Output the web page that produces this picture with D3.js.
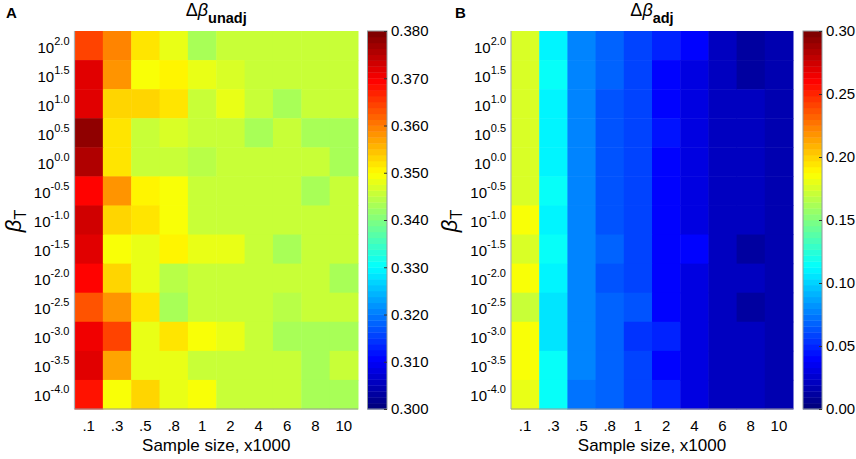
<!DOCTYPE html>
<meta charset="utf-8">
<script src="https://d3js.org/d3.v7.min.js"></script>
<style>
  body { margin: 0; background: #fff; }
  text { font-family: "Liberation Sans", Arial, sans-serif; fill: #000; }
</style>
<div id="my_dataviz"></div>
<script>
// row labels are exponents of 10 (beta_T), columns are sample sizes x1000
var exponents = ["2.0", "1.5", "1.0", "0.5", "0.0", "-0.5", "-1.0", "-1.5", "-2.0", "-2.5", "-3.0", "-3.5", "-4.0"];
var sampleSizes = [".1", ".3", ".5", ".8", "1", "2", "4", "6", "8", "10"];

// panel A: delta beta unadjusted
var unadj = [
  [0.3640, 0.3590, 0.3520, 0.3475, 0.3435, 0.3450, 0.3450, 0.3450, 0.3450, 0.3450],
  [0.3720, 0.3575, 0.3490, 0.3500, 0.3478, 0.3465, 0.3450, 0.3450, 0.3450, 0.3450],
  [0.3720, 0.3530, 0.3532, 0.3520, 0.3460, 0.3475, 0.3450, 0.3437, 0.3450, 0.3450],
  [0.3775, 0.3525, 0.3450, 0.3470, 0.3450, 0.3450, 0.3437, 0.3450, 0.3437, 0.3437],
  [0.3750, 0.3525, 0.3450, 0.3450, 0.3448, 0.3450, 0.3450, 0.3462, 0.3450, 0.3437],
  [0.3690, 0.3585, 0.3500, 0.3490, 0.3460, 0.3455, 0.3460, 0.3450, 0.3437, 0.3450],
  [0.3730, 0.3530, 0.3522, 0.3490, 0.3460, 0.3460, 0.3450, 0.3450, 0.3450, 0.3450],
  [0.3720, 0.3490, 0.3475, 0.3500, 0.3475, 0.3475, 0.3450, 0.3437, 0.3450, 0.3450],
  [0.3690, 0.3535, 0.3475, 0.3440, 0.3460, 0.3450, 0.3450, 0.3450, 0.3462, 0.3437],
  [0.3625, 0.3575, 0.3525, 0.3426, 0.3455, 0.3450, 0.3450, 0.3440, 0.3450, 0.3450],
  [0.3700, 0.3638, 0.3475, 0.3525, 0.3490, 0.3480, 0.3450, 0.3437, 0.3437, 0.3437],
  [0.3720, 0.3570, 0.3475, 0.3475, 0.3450, 0.3450, 0.3460, 0.3450, 0.3437, 0.3450],
  [0.3677, 0.3490, 0.3530, 0.3475, 0.3490, 0.3460, 0.3450, 0.3450, 0.3437, 0.3437]
];

// panel B: delta beta adjusted
var adj = [
  [0.178, 0.112, 0.075, 0.068, 0.058, 0.047, 0.0375, 0.023, 0.012, 0.016],
  [0.174, 0.117, 0.0795, 0.068, 0.058, 0.0375, 0.0285, 0.023, 0.012, 0.016],
  [0.178, 0.112, 0.077, 0.061, 0.058, 0.0375, 0.0285, 0.023, 0.021, 0.016],
  [0.178, 0.112, 0.077, 0.0656, 0.058, 0.044, 0.0285, 0.023, 0.021, 0.016],
  [0.178, 0.112, 0.077, 0.0656, 0.058, 0.0375, 0.0285, 0.023, 0.021, 0.016],
  [0.174, 0.117, 0.075, 0.0656, 0.058, 0.0375, 0.0285, 0.023, 0.021, 0.016],
  [0.183, 0.112, 0.075, 0.063, 0.058, 0.042, 0.0285, 0.021, 0.021, 0.016],
  [0.178, 0.117, 0.0795, 0.068, 0.058, 0.042, 0.0375, 0.021, 0.012, 0.016],
  [0.184, 0.112, 0.077, 0.061, 0.058, 0.0375, 0.0285, 0.021, 0.019, 0.016],
  [0.171, 0.106, 0.077, 0.068, 0.063, 0.0375, 0.0285, 0.021, 0.012, 0.016],
  [0.183, 0.106, 0.077, 0.068, 0.052, 0.049, 0.0285, 0.021, 0.019, 0.016],
  [0.183, 0.117, 0.077, 0.068, 0.058, 0.040, 0.0285, 0.021, 0.019, 0.016],
  [0.180, 0.117, 0.072, 0.068, 0.058, 0.047, 0.0285, 0.021, 0.019, 0.016]
];

var unadjTicks = [0.300, 0.310, 0.320, 0.330, 0.340, 0.350, 0.360, 0.370, 0.380];
var adjTicks = [0.00, 0.05, 0.10, 0.15, 0.20, 0.25, 0.30];

var W = 856, H = 459;
var svg = d3.select("#my_dataviz")
  .append("svg")
    .attr("width", W)
    .attr("height", H);

// matlab style jet with 64 steps
var nColors = 64;
function clamp(v) { return Math.max(0, Math.min(1, v)); }
function jet(t) {
  var r = clamp(1.5 - Math.abs(4 * t - 3)),
      g = clamp(1.5 - Math.abs(4 * t - 2)),
      b = clamp(1.5 - Math.abs(4 * t - 1));
  return d3.rgb(r * 255, g * 255, b * 255).toString();
}
var jetSteps = d3.range(nColors).map(function(i) { return jet(i / (nColors - 1)); });

function drawPanel(opts) {
  var top = 31, bottom = 409;
  var x = d3.scaleBand().domain(sampleSizes).range([opts.left, opts.right]);
  var y = d3.scaleBand().domain(exponents).range([top, bottom]);

  var color = d3.scaleQuantize().domain(opts.domain).range(jetSteps);

  var g = svg.append("g");

  // cells
  var cells = [];
  opts.values.forEach(function(row, i) {
    row.forEach(function(v, j) {
      cells.push({ r: exponents[i], c: sampleSizes[j], v: v });
    });
  });
  g.selectAll("rect.cell")
    .data(cells)
    .enter()
    .append("rect")
      .attr("class", "cell")
      .attr("x", function(d) { return x(d.c); })
      .attr("y", function(d) { return y(d.r); })
      .attr("width", x.bandwidth() + 0.5)
      .attr("height", y.bandwidth() + 0.5)
      .attr("fill", function(d) { return color(d.v); });

  // axis lines
  g.append("line")
    .attr("x1", opts.left).attr("x2", opts.left)
    .attr("y1", top).attr("y2", bottom)
    .attr("stroke", "#a9b4b8").attr("stroke-width", 1.2);
  g.append("line")
    .attr("x1", opts.left).attr("x2", opts.right)
    .attr("y1", bottom).attr("y2", bottom)
    .attr("stroke", "#999").attr("stroke-width", 1.2);

  // x tick labels
  g.selectAll("text.xt")
    .data(sampleSizes)
    .enter()
    .append("text")
      .attr("class", "xt")
      .attr("x", function(d) { return x(d) + x.bandwidth() / 2; })
      .attr("y", 431)
      .attr("text-anchor", "middle")
      .style("font-size", "15px")
      .text(function(d) { return d; });

  // y tick labels 10^e
  var yt = g.selectAll("text.yt")
    .data(exponents)
    .enter()
    .append("text")
      .attr("class", "yt")
      .attr("x", opts.left - 5)
      .attr("y", function(d) { return y(d) + y.bandwidth() / 2 + 7; })
      .attr("text-anchor", "end")
      .style("font-size", "15px");
  yt.append("tspan").text("10");
  yt.append("tspan")
    .attr("dy", -8)
    .style("font-size", "11px")
    .text(function(d) { return d; });

  // x axis label
  g.append("text")
    .attr("x", (opts.left + opts.right) / 2)
    .attr("y", 451)
    .attr("text-anchor", "middle")
    .style("font-size", "17px")
    .text("Sample size, x1000");

  // y axis label beta_T
  var yl = g.append("text")
    .attr("transform", "translate(" + (opts.left - 54) + "," + 221 + ") rotate(-90)")
    .attr("text-anchor", "middle")
    .style("font-size", "22px");
  yl.append("tspan").style("font-style", "italic").text("β");
  yl.append("tspan").attr("dy", 5).style("font-size", "16px").text("T");

  // title
  var ti = g.append("text")
    .attr("x", (opts.left + opts.right) / 2)
    .attr("y", 16)
    .attr("text-anchor", "middle")
    .style("font-size", "18px");
  ti.append("tspan").text("Δ");
  ti.append("tspan").style("font-style", "italic").text("β");
  ti.append("tspan")
    .attr("dy", 7)
    .style("font-size", "14.5px")
    .style("font-weight", "bold")
    .text(opts.sub);

  // panel letter
  g.append("text")
    .attr("x", opts.letterX)
    .attr("y", 18)
    .style("font-size", "15px")
    .style("font-weight", "bold")
    .text(opts.letter);

  // colorbar
  var cb = d3.scaleLinear().domain(opts.domain).range([bottom, top]);
  var step = (opts.domain[1] - opts.domain[0]) / nColors;
  g.selectAll("rect.cb")
    .data(d3.range(nColors))
    .enter()
    .append("rect")
      .attr("class", "cb")
      .attr("x", opts.cbLeft)
      .attr("width", opts.cbWidth)
      .attr("y", function(i) { return cb(opts.domain[0] + (i + 1) * step); })
      .attr("height", function(i) { return cb(opts.domain[0] + i * step) - cb(opts.domain[0] + (i + 1) * step) + 0.4; })
      .attr("fill", function(i) { return jetSteps[i]; });
  g.append("rect")
    .attr("x", opts.cbLeft).attr("y", top)
    .attr("width", opts.cbWidth).attr("height", bottom - top)
    .attr("fill", "none")
    .attr("stroke", "#8f9a9c").attr("stroke-width", 1);

  var axis = d3.axisLeft(cb)
    .tickValues(opts.ticks)
    .tickSize(3)
    .tickFormat(d3.format(opts.fmt));
  var ax = g.append("g")
    .attr("transform", "translate(" + (opts.cbLeft + opts.cbWidth) + ",0)")
    .call(axis);
  ax.select(".domain").remove();
  ax.selectAll(".tick line").attr("stroke", "#333");
  ax.selectAll(".tick text")
    .attr("x", 4)
    .attr("text-anchor", "start")
    .style("font-size", "15px")
    .style("font-family", "'Liberation Sans', Arial, sans-serif");
}

drawPanel({
  left: 74.5, right: 358, values: unadj, domain: [0.300, 0.380],
  ticks: unadjTicks, fmt: ".3f", sub: "unadj", letter: "A", letterX: 6,
  cbLeft: 367.5, cbWidth: 19.5
});
drawPanel({
  left: 511, right: 793, values: adj, domain: [0.00, 0.30],
  ticks: adjTicks, fmt: ".2f", sub: "adj", letter: "B", letterX: 455,
  cbLeft: 803, cbWidth: 19
});
</script>
